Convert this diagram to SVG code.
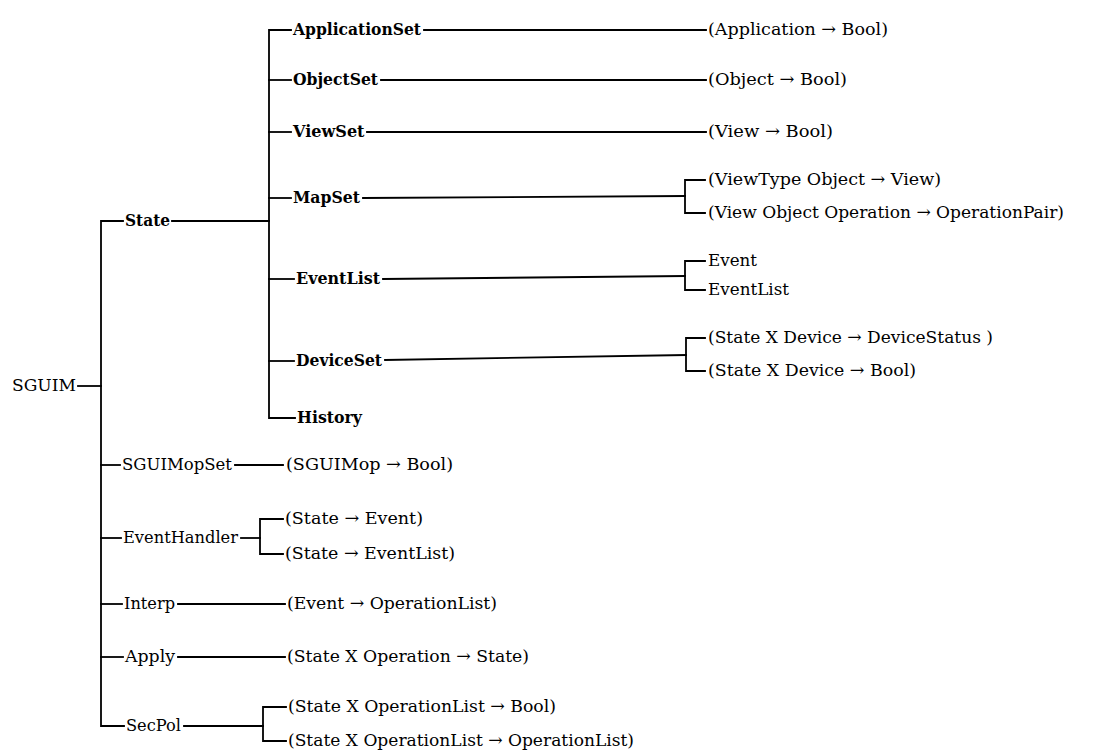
<svg xmlns="http://www.w3.org/2000/svg" width="1095" height="753" viewBox="0 0 1095 753">
  <style>
    .r { font-family: "DejaVu Serif", "Liberation Serif", serif; font-size: 17.5px; fill: #000; }
    .b { font-family: "DejaVu Serif", "Liberation Serif", serif; font-size: 16.2px; font-weight: bold; fill: #000; }
    .ln { fill: none; stroke: #000; stroke-width: 1.8; stroke-linecap: square; }
  </style>
  <rect width="1095" height="753" fill="#fff"/>

  <!-- connectors: tree brackets and leader lines -->
  <g id="connectors" class="ln">
    <!-- root -->
    <path d="M78 386 H101"/>
    <path d="M123 221 H101 V726 H124"/>
    <!-- State -->
    <path d="M172 221 H269"/>
    <path d="M291 30 H269 V418 H295"/>
    <path d="M269 80 H291"/>
    <path d="M269 132 H291"/>
    <path d="M269 198 H291"/>
    <path d="M269 279 H294"/>
    <path d="M269 361 H294"/>
    <!-- State children to their types -->
    <path d="M424 30 H706"/>
    <path d="M381 80 H706"/>
    <path d="M367 132 H706"/>
    <path d="M363 198 L685 196"/>
    <path d="M705 180 H685 V213 H705"/>
    <path d="M383 279 L685 276"/>
    <path d="M705 261 H685 V290 H705"/>
    <path d="M385 360 L686 355"/>
    <path d="M705 338 H686 V371 H705"/>
    <!-- remaining SGUIM components -->
    <path d="M101 465 H120"/>
    <path d="M235 465 H283"/>
    <path d="M101 538 H121"/>
    <path d="M241 538 H260"/>
    <path d="M283 519 H260 V554 H283"/>
    <path d="M101 604 H122"/>
    <path d="M178 604 H285"/>
    <path d="M101 657 H123"/>
    <path d="M178 657 H285"/>
    <path d="M184 726 H263"/>
    <path d="M286 707 H263 V741 H286"/>
  </g>

  <g id="node-sguim"><text class="r" x="12" y="391" textLength="64" lengthAdjust="spacingAndGlyphs">SGUIM</text></g>

  <g id="node-state"><text class="b" x="125" y="226" textLength="45" lengthAdjust="spacingAndGlyphs">State</text></g>
  <g id="node-applicationset"><text class="b" x="293" y="35" textLength="128" lengthAdjust="spacingAndGlyphs">ApplicationSet</text></g>
  <g id="node-objectset"><text class="b" x="293" y="85" textLength="85" lengthAdjust="spacingAndGlyphs">ObjectSet</text></g>
  <g id="node-viewset"><text class="b" x="293" y="137" textLength="71.5" lengthAdjust="spacingAndGlyphs">ViewSet</text></g>
  <g id="node-mapset"><text class="b" x="293" y="203" textLength="67" lengthAdjust="spacingAndGlyphs">MapSet</text></g>
  <g id="node-eventlist"><text class="b" x="296" y="284" textLength="84" lengthAdjust="spacingAndGlyphs">EventList</text></g>
  <g id="node-deviceset"><text class="b" x="296" y="366" textLength="86" lengthAdjust="spacingAndGlyphs">DeviceSet</text></g>
  <g id="node-history"><text class="b" x="297" y="423" textLength="65" lengthAdjust="spacingAndGlyphs">History</text></g>

  <g id="type-application"><text class="r" x="708" y="35" textLength="180" lengthAdjust="spacingAndGlyphs">(Application → Bool)</text></g>
  <g id="type-object"><text class="r" x="708" y="85" textLength="139" lengthAdjust="spacingAndGlyphs">(Object → Bool)</text></g>
  <g id="type-view"><text class="r" x="708" y="137" textLength="125" lengthAdjust="spacingAndGlyphs">(View → Bool)</text></g>
  <g id="type-map-view"><text class="r" x="708" y="185" textLength="233" lengthAdjust="spacingAndGlyphs">(ViewType Object → View)</text></g>
  <g id="type-map-op"><text class="r" x="708" y="218" textLength="356" lengthAdjust="spacingAndGlyphs">(View Object Operation → OperationPair)</text></g>
  <g id="type-event"><text class="r" x="708" y="266" textLength="49" lengthAdjust="spacingAndGlyphs">Event</text></g>
  <g id="type-eventlist"><text class="r" x="708" y="295" textLength="81" lengthAdjust="spacingAndGlyphs">EventList</text></g>
  <g id="type-devstatus"><text class="r" x="708" y="343" textLength="285" lengthAdjust="spacingAndGlyphs">(State X Device → DeviceStatus )</text></g>
  <g id="type-devbool"><text class="r" x="708" y="376" textLength="208" lengthAdjust="spacingAndGlyphs">(State X Device → Bool)</text></g>

  <g id="node-sguimopset"><text class="r" x="122" y="470" textLength="110" lengthAdjust="spacingAndGlyphs">SGUIMopSet</text></g>
  <g id="type-sguimop"><text class="r" x="286" y="470" textLength="167" lengthAdjust="spacingAndGlyphs">(SGUIMop → Bool)</text></g>

  <g id="node-eventhandler"><text class="r" x="123" y="543" textLength="115" lengthAdjust="spacingAndGlyphs">EventHandler</text></g>
  <g id="type-handler-event"><text class="r" x="285" y="524" textLength="138" lengthAdjust="spacingAndGlyphs">(State → Event)</text></g>
  <g id="type-handler-list"><text class="r" x="285" y="559" textLength="170" lengthAdjust="spacingAndGlyphs">(State → EventList)</text></g>

  <g id="node-interp"><text class="r" x="124" y="609" textLength="51" lengthAdjust="spacingAndGlyphs">Interp</text></g>
  <g id="type-interp"><text class="r" x="287" y="609" textLength="210" lengthAdjust="spacingAndGlyphs">(Event → OperationList)</text></g>

  <g id="node-apply"><text class="r" x="125" y="662" textLength="50" lengthAdjust="spacingAndGlyphs">Apply</text></g>
  <g id="type-apply"><text class="r" x="287" y="662" textLength="242" lengthAdjust="spacingAndGlyphs">(State X Operation → State)</text></g>

  <g id="node-secpol"><text class="r" x="126" y="731" textLength="55" lengthAdjust="spacingAndGlyphs">SecPol</text></g>
  <g id="type-secpol-bool"><text class="r" x="288" y="712" textLength="268" lengthAdjust="spacingAndGlyphs">(State X OperationList → Bool)</text></g>
  <g id="type-secpol-list"><text class="r" x="288" y="746" textLength="346" lengthAdjust="spacingAndGlyphs">(State X OperationList → OperationList)</text></g>
</svg>
